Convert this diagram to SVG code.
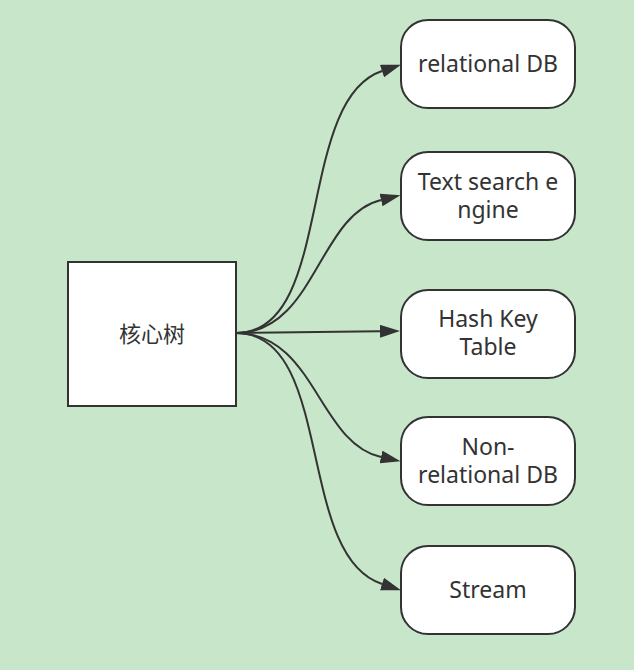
<svg xmlns="http://www.w3.org/2000/svg" width="634" height="670" viewBox="0 0 634 670">
  <defs>
    <style>
      .bg { fill: #c8e6c9; }
      .box { fill: #ffffff; stroke: #333333; stroke-width: 2; }
      .label { font-family: "Noto Sans", "Noto Sans CJK SC", sans-serif; font-size: 23px; fill: #333333; text-anchor: middle; }
      .cn { font-size: 22px; }
      .edge { fill: none; stroke: #333333; stroke-width: 2; marker-end: url(#arrow); }
    </style>
    <marker id="arrow" markerUnits="userSpaceOnUse" markerWidth="21" markerHeight="14" refX="0" refY="6.5" orient="auto">
      <path d="M0,0 L20,6.5 L0,13 Z" fill="#333333"/>
    </marker>
  </defs>
  <rect class="bg" x="0" y="0" width="634" height="670"/>

  <g id="connectors">
    <path class="edge" d="M236,333 C335,333 295,100 382,71"/>
    <path class="edge" d="M236,333 C315,333 318,215 381,200"/>
    <path class="edge" d="M236,333 L380,331.3"/>
    <path class="edge" d="M236,333 C315,333 318,443 381,457"/>
    <path class="edge" d="M236,333 C335,333 295,556 382,584"/>
  </g>

  <g id="node-core">
    <rect class="box" x="68" y="262" width="168" height="144"/>
    <text class="label cn" x="152" y="342">核心树</text>
  </g>
  <g id="node-relational">
    <rect class="box" x="401" y="20" width="174" height="88" rx="27" ry="27"/>
    <text class="label" x="488" y="72">relational DB</text>
  </g>
  <g id="node-textsearch">
    <rect class="box" x="401" y="152" width="174" height="88" rx="27" ry="27"/>
    <text class="label" x="488" y="190">Text search e</text>
    <text class="label" x="488" y="218">ngine</text>
  </g>
  <g id="node-hashkey">
    <rect class="box" x="401" y="290" width="174" height="88" rx="27" ry="27"/>
    <text class="label" x="488" y="327">Hash Key</text>
    <text class="label" x="488" y="355">Table</text>
  </g>
  <g id="node-nonrelational">
    <rect class="box" x="401" y="417" width="174" height="88" rx="27" ry="27"/>
    <text class="label" x="488" y="455">Non-</text>
    <text class="label" x="488" y="483">relational DB</text>
  </g>
  <g id="node-stream">
    <rect class="box" x="401" y="546" width="174" height="88" rx="27" ry="27"/>
    <text class="label" x="488" y="598">Stream</text>
  </g>
</svg>
